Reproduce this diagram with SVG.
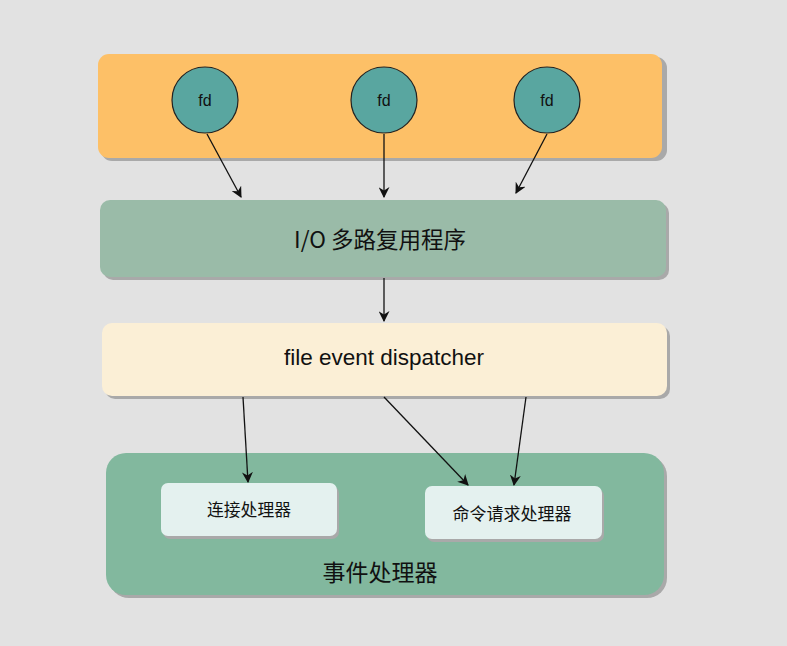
<svg xmlns="http://www.w3.org/2000/svg" width="787" height="646" viewBox="0 0 787 646">
<defs>
<style>
.shadow{fill:#a9a9a9}
.lbl{font-family:"Liberation Sans","Noto Sans CJK SC",sans-serif;fill:#111;text-anchor:middle;dominant-baseline:central}
.cjk{font-family:"Noto Sans CJK SC","Liberation Sans",sans-serif;fill:#111;text-anchor:middle;dominant-baseline:central}
.conn{stroke:#111;stroke-width:1.3;fill:none;marker-end:url(#arr)}
</style>
<marker id="arr" viewBox="0 0 10 10" refX="9" refY="5" markerWidth="11" markerHeight="11" markerUnits="userSpaceOnUse" orient="auto">
<path d="M0,0 L10,5 L0,10 L3,5 Z" fill="#111"/>
</marker>
</defs>
<rect width="787" height="646" fill="#e2e2e2"/>
<g id="fd-group">
<rect class="shadow" x="101" y="57" width="566" height="104" rx="11"/>
<rect x="98" y="54" width="564" height="104" rx="11" fill="#fdc067"/>
</g>
<g id="fd1">
<circle cx="205" cy="100" r="33" fill="#59a6a0" stroke="#222" stroke-width="1.2"/>
<text class="lbl" x="205" y="100" font-size="16">fd</text>
</g>
<g id="fd2">
<circle cx="384" cy="100" r="33" fill="#59a6a0" stroke="#222" stroke-width="1.2"/>
<text class="lbl" x="384" y="100" font-size="16">fd</text>
</g>
<g id="fd3">
<circle cx="547" cy="100" r="33" fill="#59a6a0" stroke="#222" stroke-width="1.2"/>
<text class="lbl" x="547" y="100" font-size="16">fd</text>
</g>
<g id="io-multiplexer">
<rect class="shadow" x="103" y="203" width="566" height="77" rx="10"/>
<rect x="100" y="200" width="566" height="77" rx="10" fill="#9abba8"/>
<text class="cjk" x="380" y="238" font-size="22.5">I/O 多路复用程序</text>
</g>
<g id="dispatcher">
<rect class="shadow" x="105" y="326" width="565" height="73" rx="10"/>
<rect x="102" y="323" width="565" height="73" rx="10" fill="#fbefd6"/>
<text class="lbl" x="384" y="357" font-size="22.5">file event dispatcher</text>
</g>
<g id="event-handlers">
<rect class="shadow" x="109" y="456" width="558" height="142" rx="20"/>
<rect x="106" y="453" width="558" height="142" rx="20" fill="#82b89e"/>
<text class="cjk" x="380" y="571" font-size="23">事件处理器</text>
</g>
<g id="conn-handler">
<rect class="shadow" x="163" y="486" width="176" height="53" rx="7"/>
<rect x="161" y="483" width="176" height="53" rx="7" fill="#e4f1ef"/>
<text class="cjk" x="249" y="509" font-size="16.8">连接处理器</text>
</g>
<g id="cmd-handler">
<rect class="shadow" x="427" y="489" width="177" height="53" rx="7"/>
<rect x="425" y="486" width="177" height="53" rx="7" fill="#e4f1ef"/>
<text class="cjk" x="512" y="512" font-size="17">命令请求处理器</text>
</g>
<g id="connectors">
<line class="conn" x1="207" y1="134" x2="241" y2="197"/>
<line class="conn" x1="384" y1="134" x2="384" y2="197"/>
<line class="conn" x1="547" y1="134" x2="516" y2="193"/>
<line class="conn" x1="384" y1="278" x2="384" y2="321"/>
<line class="conn" x1="243" y1="397" x2="248" y2="482"/>
<line class="conn" x1="384" y1="397" x2="468" y2="485"/>
<line class="conn" x1="526" y1="397" x2="514" y2="485"/>
</g>
</svg>
